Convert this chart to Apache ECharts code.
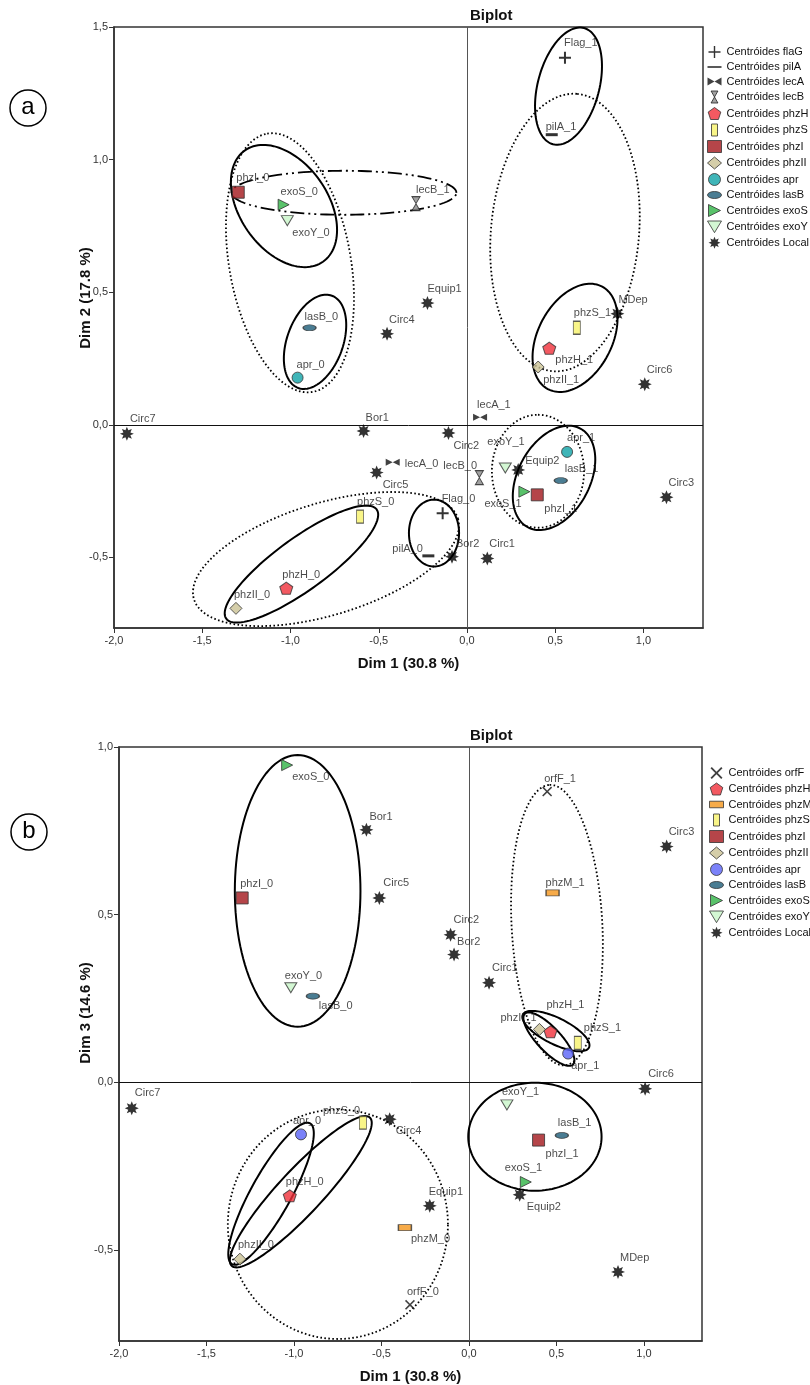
<!DOCTYPE html>
<html>
<head>
<meta charset="utf-8">
<script src="https://cdn.jsdelivr.net/npm/echarts@6/dist/echarts.min.js"></script>
<style>
  html, body { margin: 0; background: #fff; }
  #chart { width: 810px; height: 1385px; }
</style>
</head>
<body>
<div id="chart"></div>
<script>
// centroid coordinates; null = not drawn in that plot
const pointNames = ['Flag_0', 'Flag_1', 'pilA_0', 'pilA_1', 'lecA_0', 'lecA_1', 'lecB_0', 'lecB_1',
  'orfF_0', 'orfF_1', 'phzH_0', 'phzH_1', 'phzM_0', 'phzM_1', 'phzS_0', 'phzS_1', 'phzI_0', 'phzI_1',
  'phzII_0', 'phzII_1', 'apr_0', 'apr_1', 'lasB_0', 'lasB_1', 'exoS_0', 'exoS_1', 'exoY_0', 'exoY_1',
  'Bor1', 'Bor2', 'Circ1', 'Circ2', 'Circ3', 'Circ4', 'Circ5', 'Circ6', 'Circ7', 'Equip1', 'Equip2', 'MDep']
const pointGroup = ['flaG', 'flaG', 'pilA', 'pilA', 'lecA', 'lecA', 'lecB', 'lecB',
  'orfF', 'orfF', 'phzH', 'phzH', 'phzM', 'phzM', 'phzS', 'phzS', 'phzI', 'phzI',
  'phzII', 'phzII', 'apr', 'apr', 'lasB', 'lasB', 'exoS', 'exoS', 'exoY', 'exoY',
  'Local', 'Local', 'Local', 'Local', 'Local', 'Local', 'Local', 'Local', 'Local', 'Local', 'Local', 'Local']
const dim1 = [-0.138, 0.555, -0.219, 0.48, -0.421, 0.074, 0.07, -0.289,
  -0.337, 0.447, -1.024, 0.466, -0.366, 0.478, -0.606, 0.622, -1.296, 0.398,
  -1.309, 0.403, -0.96, 0.567, -0.892, 0.531, -1.039, 0.325, -1.018, 0.217,
  -0.586, -0.085, 0.115, -0.105, 1.13, -0.453, -0.512, 1.007, -1.927, -0.224, 0.29, 0.852]
const dim2 = [-0.333, 1.384, -0.494, 1.094, -0.141, 0.029, -0.199, 0.834,
  null, null, -0.616, 0.289, null, null, -0.346, 0.366, 0.877, -0.264,
  -0.692, 0.218, 0.178, -0.102, 0.366, -0.21, 0.83, -0.252, 0.77, -0.163,
  -0.023, -0.497, -0.504, -0.031, -0.273, 0.343, -0.18, 0.153, -0.034, 0.459, -0.17, 0.419]
const dim3 = [null, null, null, null, null, null, null, null,
  -0.663, 0.867, -0.338, 0.151, -0.433, 0.565, -0.12, 0.118, 0.55, -0.172,
  -0.527, 0.158, -0.155, 0.086, 0.257, -0.158, 0.946, -0.297, 0.282, -0.067,
  0.753, 0.381, 0.297, 0.44, 0.703, -0.11, 0.55, -0.019, -0.077, -0.368, -0.335, -0.565]

const groupsA = ['flaG', 'pilA', 'lecA', 'lecB', 'phzH', 'phzS', 'phzI', 'phzII', 'apr', 'lasB', 'exoS', 'exoY', 'Local']
const groupsB = ['orfF', 'phzH', 'phzM', 'phzS', 'phzI', 'phzII', 'apr', 'lasB', 'exoS', 'exoY', 'Local']

const xTicks = [-2, -1.5, -1, -0.5, 0, 0.5, 1]
const yTicksA = [-0.5, 0, 0.5, 1, 1.5]
const yTicksB = [-0.5, 0, 0.5, 1]

// confidence ellipses: [centre x, centre y, axis-1 x, axis-1 y, axis-2 x, axis-2 y] in data units
const solidEllipsesA = [
  [0.575, 1.277, 0.088, 0.219, 0.168, -0.030],
  [0.612, 0.328, 0.154, 0.193, 0.185, -0.066],
  [0.493, -0.200, 0.149, 0.186, 0.180, -0.064],
  [-1.037, 0.825, -0.221, 0.210, 0.204, 0.095],
  [-0.861, 0.313, 0.095, 0.174, 0.149, -0.036],
  [-0.938, -0.525, 0.426, 0.206, 0.087, -0.079],
  [-0.187, -0.408, 0, 0.126, 0.142, 0]
]
const dottedEllipsesA = [
  [0.555, 0.725, 0.069, 0.523, 0.418, -0.024],
  [0.402, -0.175, 0, 0.213, 0.261, 0],
  [-1.003, 0.611, -0.129, 0.487, 0.339, 0.040],
  [-0.799, -0.506, 0.748, 0.152, 0.093, -0.202]
]
const dashDotEllipsesA = [
  [-0.697, 0.875, 0.637, 0, 0, 0.083]
]
const solidEllipsesB = [
  [-0.979, 0.571, 0, 0.405, 0.359, 0],
  [0.497, 0.153, 0.189, -0.049, -0.033, -0.035],
  [0.457, 0.129, 0.137, -0.076, -0.050, -0.024],
  [0.377, -0.162, 0.381, 0, 0, 0.161],
  [-1.131, -0.332, 0.223, 0.210, 0.100, -0.029],
  [-0.961, -0.326, 0.395, 0.221, 0.092, -0.045]
]
const dottedEllipsesB = [
  [0.503, 0.469, -0.042, 0.418, 0.259, 0.007],
  [-0.749, -0.423, 0.629, 0, 0, 0.342]
]

// label placement (px from marker centre, text starts there)
const labelOffA = {
  Flag_1: [-1, -15], pilA_1: [-6, -8], lecB_1: [0, -14], phzI_0: [-2, -14], exoS_0: [-3, -13],
  exoY_0: [5, 12], Equip1: [0, -14], lasB_0: [-5, -11], Circ4: [2, -14], apr_0: [-1, -13],
  MDep: [1, -14], phzS_1: [-3, -15], phzH_1: [6, 12], phzII_1: [5, 13], Circ6: [2, -14],
  lecA_1: [-3, -12], Circ7: [3, -15], Bor1: [2, -13], Circ2: [5, 13], apr_1: [0, -14],
  exoY_1: [-18, -26], Equip2: [7, -9], lecB_0: [-36, -12], lasB_1: [4, -12], exoS_1: [-40, 12],
  phzI_1: [7, 14], Circ3: [2, -14], lecA_0: [12, 2], Circ5: [6, 12], phzS_0: [-3, -15],
  Flag_0: [-1, -14], pilA_0: [-36, -7], Bor2: [4, -13], Circ1: [2, -15], phzH_0: [-4, -13], phzII_0: [-2, -13]
}
const labelOffB = {
  orfF_1: [-3, -13], Circ3: [2, -15], phzM_1: [-7, -10], Circ2: [3, -15], Bor2: [3, -13],
  Circ1: [3, -15], exoS_0: [5, 12], Bor1: [3, -13], phzI_0: [-2, -14], Circ5: [4, -15],
  exoY_0: [-6, -12], lasB_0: [6, 10], phzH_1: [-4, -27], phzII_1: [-39, -11], phzS_1: [6, -15],
  apr_1: [3, 12], Circ6: [3, -15], exoY_1: [-5, -13], lasB_1: [-4, -12], phzI_1: [7, 14],
  exoS_1: [-21, -14], Equip2: [7, 12], MDep: [2, -14], Circ7: [3, -15], phzS_0: [-40, -12],
  Circ4: [6, 12], apr_0: [-8, -13], phzH_0: [-4, -14], Equip1: [-1, -14], phzM_0: [6, 11],
  phzII_0: [-2, -14], orfF_0: [-3, -13]
}

function polyPath(n, rOut, rIn, rot) {
  let d = ''
  const k = rIn == null ? n : n * 2
  for (let i = 0; i < k; i++) {
    const r = rIn == null || i % 2 === 0 ? rOut : rIn
    const a = rot + i * Math.PI * 2 / k
    d += (i ? 'L' : 'M') + (10 + r * Math.cos(a)).toFixed(2) + ',' + (10 + r * Math.sin(a)).toFixed(2)
  }
  return 'path://' + d + 'Z'
}
const starPath = polyPath(8, 10, 5.4, -Math.PI / 2)
const pentaPath = polyPath(5, 10, null, -Math.PI / 2)

const border = { borderColor: '#333', borderWidth: 1 }
const styles = {
  flaG: { symbol: 'path://M5,0h2v5h5v2h-5v5h-2v-5h-5v-2h5z', size: [12, 12], icon: 'path://M5,0h1.4v5.3h5.3v1.4h-5.3v5.3h-1.4v-5.3h-5.3v-1.4h5.3z', item: { color: '#000' } },
  pilA: { symbol: 'rect', size: [12, 3], icon: 'path://M0,0h12v1.4h-12z', item: { color: '#000' } },
  lecA: { symbol: 'path://M0,0L7,3.5L0,7Z M14,0L7,3.5L14,7Z', size: [14, 7], icon: 'path://M0,0L7,4L0,8Z M14,0L7,4L14,8Z', item: { color: '#111' } },
  lecB: { symbol: 'path://M0,0H8L4,7L8,14H0L4,7Z', size: [8, 14], item: { color: '#8a8a8a', borderColor: '#222', borderWidth: 1 } },
  orfF: { symbol: 'path://M0,1.1L1.1,0L5,3.9L8.9,0L10,1.1L6.1,5L10,8.9L8.9,10L5,6.1L1.1,10L0,8.9L3.9,5Z', size: [10, 10], item: { color: '#111' } },
  phzH: { symbol: pentaPath, size: [13, 12], item: Object.assign({ color: '#f0303a' }, border) },
  phzM: { symbol: 'rect', size: [13, 6], icon: 'path://M0,0h15v7h-15z', item: Object.assign({ color: '#f5961c' }, border) },
  phzS: { symbol: 'rect', size: [7, 13], icon: 'path://M0,0h6v12h-6z', item: Object.assign({ color: '#f8f26a' }, border) },
  phzI: { symbol: 'rect', size: [12, 12], item: Object.assign({ color: '#a3161b' }, border) },
  phzII: { symbol: 'diamond', size: [12, 12], item: Object.assign({ color: '#cbc293' }, border) },
  apr: { symbol: 'circle', size: 11, item: Object.assign({ color: '#0fa3a6' }, border) },
  lasB: { symbol: 'path://M0,3A6,3,0,1,1,12,3A6,3,0,1,1,0,3Z', size: [13, 6], item: Object.assign({ color: '#1d5c78' }, border) },
  exoS: { symbol: 'path://M0,0L10,5L0,10Z', size: [11, 11], item: Object.assign({ color: '#2fb345' }, border) },
  exoY: { symbol: 'path://M0,0H12L6,10Z', size: [12, 10], item: Object.assign({ color: '#c8f5c8' }, border) },
  Local: { symbol: starPath, size: [14, 14], item: { color: '#000' } }
}
const aprColorB = '#5a63f7'

const fmt = v => v.toFixed(1).replace('.', ',')
const labelFont = 'Liberation Sans'

function scatterSeries(groups, dimY, offs, gi, aprColor) {
  return groups.map(g => {
    const st = styles[g]
    const item = g === 'apr' && aprColor ? Object.assign({}, st.item, { color: aprColor }) : st.item
    const data = []
    pointNames.forEach((n, i) => {
      if (pointGroup[i] !== g || dimY[i] == null) return
      data.push({ name: n, value: [dim1[i], dimY[i]], label: { offset: offs[n] || [0, -14] } })
    })
    const s = {
      type: 'scatter', name: 'Centróides ' + g, xAxisIndex: gi, yAxisIndex: gi, z: 5,
      symbol: st.symbol, symbolSize: st.size, itemStyle: item, data: data,
      label: {
        show: true, position: 'inside', align: 'left', verticalAlign: 'middle', formatter: '{b}',
        color: '#1a1a1a', fontSize: 11, fontFamily: labelFont
      },
      emphasis: { disabled: true }
    }
    if (g === 'Local') {
      s.markLine = {
        silent: true, symbol: ['none', 'none'], label: { show: false }, z: 1,
        data: [{ xAxis: 0, lineStyle: { color: '#555', width: 1, type: 'solid' } },
               { yAxis: 0, lineStyle: { color: '#111', width: 1, type: 'solid' } }]
      }
    }
    return s
  })
}

function ellipseSeries(data, gi, dash) {
  return {
    type: 'custom', xAxisIndex: gi, yAxisIndex: gi, silent: true, z: 2,
    encode: { x: 0, y: 1 }, data: data,
    renderItem: (params, api) => {
      const pts = []
      for (let i = 0; i < 120; i++) {
        const t = i / 120 * Math.PI * 2
        const c = Math.cos(t), s = Math.sin(t)
        pts.push(api.coord([
          api.value(0) + api.value(2) * c + api.value(4) * s,
          api.value(1) + api.value(3) * c + api.value(5) * s
        ]))
      }
      return {
        type: 'polygon', shape: { points: pts },
        style: { fill: 'none', stroke: '#000', lineWidth: dash ? 1.8 : 2, lineDash: dash || null, lineCap: 'butt' }
      }
    }
  }
}

function xAxis(gi, max) {
  return {
    gridIndex: gi, type: 'value', min: -2, max: max,
    axisLine: { show: true, onZero: false, lineStyle: { color: '#333', width: 1.5 } },
    axisTick: { show: true, length: 5, customValues: xTicks, lineStyle: { color: '#333' } },
    axisLabel: { customValues: xTicks, formatter: fmt, color: '#333', fontSize: 11, fontFamily: labelFont, margin: 7 },
    splitLine: { show: false },
    name: 'Dim 1 (30.8 %)', nameLocation: 'middle', nameGap: 28,
    nameTextStyle: { fontWeight: 'bold', fontSize: 15, color: '#111', fontFamily: labelFont }
  }
}
function yAxis(gi, min, max, ticks) {
  return {
    gridIndex: gi, type: 'value', min: min, max: max,
    axisLine: { show: true, onZero: false, lineStyle: { color: '#333', width: 1.5 } },
    axisTick: { show: true, length: 5, customValues: ticks, lineStyle: { color: '#333' } },
    axisLabel: { customValues: ticks, formatter: fmt, color: '#333', fontSize: 11, fontFamily: labelFont, margin: 6 },
    splitLine: { show: false }
  }
}

function legendData(groups, aprColor) {
  return groups.map(g => {
    const st = styles[g]
    const it = g === 'apr' && aprColor ? Object.assign({}, st.item, { color: aprColor }) : st.item
    return { name: 'Centróides ' + g, icon: st.icon || st.symbol, itemStyle: it }
  })
}
const legendBase = {
  orient: 'vertical', itemWidth: 14, itemHeight: 12, itemGap: 3.5, padding: 0, selectedMode: false,
  textStyle: { fontSize: 11, color: '#111', fontFamily: labelFont }
}

const chart = echarts.init(document.getElementById('chart'), null, { renderer: 'canvas' })
chart.setOption({
  animation: false,
  backgroundColor: '#fff',
  title: [
    { text: 'Biplot', left: 465, top: 3, textStyle: { fontSize: 15, fontWeight: 'bold', color: '#111', fontFamily: labelFont } },
    { text: 'Biplot', left: 465, top: 723, textStyle: { fontSize: 15, fontWeight: 'bold', color: '#111', fontFamily: labelFont } }
  ],
  grid: [
    { left: 114, top: 27, width: 589, height: 601, show: true, borderColor: '#333', borderWidth: 1.5 },
    { left: 119, top: 747, width: 583, height: 595, show: true, borderColor: '#333', borderWidth: 1.5 }
  ],
  xAxis: [xAxis(0, 1.337), xAxis(1, 1.332)],
  yAxis: [yAxis(0, -0.766, 1.5, yTicksA), yAxis(1, -0.771, 1.0, yTicksB)],
  legend: [
    Object.assign({ left: 707, top: 46, data: legendData(groupsA) }, legendBase),
    Object.assign({ left: 709, top: 767, data: legendData(groupsB, aprColorB) }, legendBase)
  ],
  graphic: [
    { type: 'circle', shape: { cx: 28, cy: 108, r: 18 }, style: { fill: 'none', stroke: '#000', lineWidth: 1.5 } },
    { type: 'text', x: 28, y: 107, style: { text: 'a', font: '24px Liberation Sans', fill: '#000', align: 'center', verticalAlign: 'middle' } },
    { type: 'circle', shape: { cx: 29, cy: 832, r: 18 }, style: { fill: 'none', stroke: '#000', lineWidth: 1.5 } },
    { type: 'text', x: 29, y: 831, style: { text: 'b', font: '24px Liberation Sans', fill: '#000', align: 'center', verticalAlign: 'middle' } },
    { type: 'text', x: 86, y: 298, rotation: Math.PI / 2, style: { text: 'Dim 2 (17.8 %)', font: 'bold 15px Liberation Sans', fill: '#111', align: 'center', verticalAlign: 'middle' } },
    { type: 'text', x: 86, y: 1013, rotation: Math.PI / 2, style: { text: 'Dim 3 (14.6 %)', font: 'bold 15px Liberation Sans', fill: '#111', align: 'center', verticalAlign: 'middle' } }
  ],
  series: [
    ellipseSeries(solidEllipsesA, 0, null),
    ellipseSeries(dottedEllipsesA, 0, [1.6, 2.4]),
    ellipseSeries(dashDotEllipsesA, 0, [14, 4, 2, 4, 2, 4]),
    ellipseSeries(solidEllipsesB, 1, null),
    ellipseSeries(dottedEllipsesB, 1, [1.6, 2.4])
  ].concat(scatterSeries(groupsA, dim2, labelOffA, 0), scatterSeries(groupsB, dim3, labelOffB, 1, aprColorB))
})
</script>
</body>
</html>
